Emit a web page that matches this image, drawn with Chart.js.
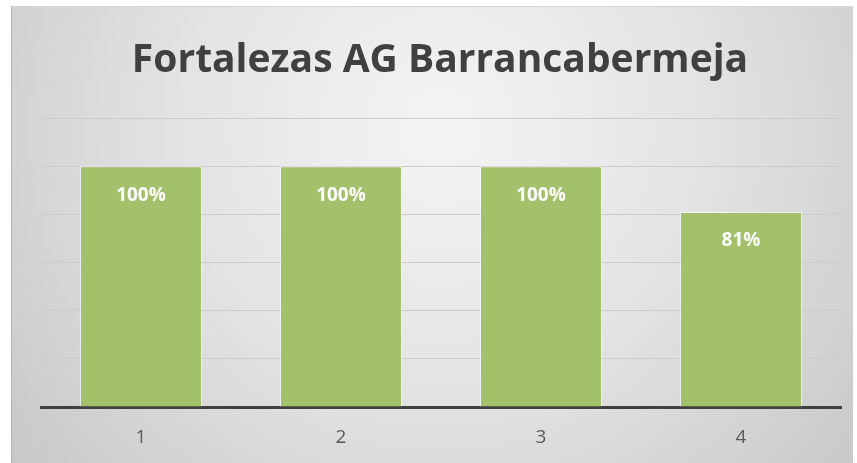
<!DOCTYPE html>
<html>
<head>
<meta charset="utf-8">
<script src="https://cdn.jsdelivr.net/npm/chart.js@4/dist/chart.umd.min.js"></script>
<style>
html,body{margin:0;padding:0;background:#ffffff;}
#wrap{width:857px;height:463px;position:relative;}
</style>
</head>
<body>
<div id="wrap"><canvas id="c" width="857" height="463"></canvas></div>
<script>
const categories = ["1", "2", "3", "4"];
const values = [100, 100, 100, 81];
const valueLabels = ["100%", "100%", "100%", "81%"];
const titleText = "Fortalezas AG Barrancabermeja";

const bgPlugin = {
  id: 'bg',
  beforeDraw(chart) {
    const ctx = chart.ctx;
    ctx.save();
    ctx.fillStyle = '#ffffff';
    ctx.fillRect(0, 0, chart.width, chart.height);
    const x0 = 11, y0 = 6, x1 = 853, y1 = 463;
    const g = ctx.createRadialGradient(440, 130, 20, 440, 130, 560);
    g.addColorStop(0, '#f3f3f3');
    g.addColorStop(0.45, '#e3e3e3');
    g.addColorStop(1, '#c6c6c6');
    ctx.fillStyle = g;
    ctx.fillRect(x0, y0, x1 - x0, y1 - y0);
    ctx.strokeStyle = '#d6d6d6';
    ctx.lineWidth = 1;
    ctx.beginPath();
    ctx.moveTo(x0, y0 + 0.5); ctx.lineTo(x1, y0 + 0.5);
    ctx.stroke();
    ctx.strokeStyle = '#b4b4b4';
    ctx.beginPath();
    ctx.moveTo(x0 + 0.5, y0); ctx.lineTo(x0 + 0.5, y1);
    ctx.stroke();
    // title
    ctx.fillStyle = '#404040';
    ctx.font = 'bold 39px "Open Sans"';
    ctx.textAlign = 'center';
    ctx.textBaseline = 'middle';
    ctx.fillText(titleText, 440, 61);
    ctx.restore();
  },
  afterDatasetsDraw(chart) {
    const ctx = chart.ctx;
    const meta = chart.getDatasetMeta(0);
    ctx.save();
    ctx.fillStyle = '#ffffff';
    ctx.font = 'bold 19px "Open Sans"';
    ctx.textAlign = 'center';
    ctx.textBaseline = 'middle';
    meta.data.forEach((bar, i) => {
      ctx.fillText(valueLabels[i], bar.x, bar.y + 29);
    });
    ctx.restore();
  }
};

new Chart(document.getElementById('c'), {
  type: 'bar',
  data: {
    labels: categories,
    datasets: [{
      data: values,
      backgroundColor: '#a3c16a',
      borderColor: 'rgba(255,255,255,0.55)',
      borderWidth: 1,
      barPercentage: 0.61,
      categoryPercentage: 1.0
    }]
  },
  options: {
    responsive: false,
    animation: false,
    devicePixelRatio: 1,
    layout: { padding: { top: 118, left: 41, right: 16, bottom: 0 } },
    plugins: { legend: { display: false }, title: { display: false }, tooltip: { enabled: false } },
    scales: {
      x: {
        grid: { display: false, drawTicks: false },
        border: { display: true, color: '#404040', width: 3 },
        ticks: { color: '#595959', font: { family: 'Open Sans', size: 19 }, padding: 19 },
        afterFit(s) { s.height = 56; }
      },
      y: {
        min: 0, max: 120,
        ticks: { display: false, stepSize: 20 },
        grid: { color: '#cccccc', lineWidth: 1, drawTicks: false },
        border: { display: false },
        afterFit(s) { s.width = 0; }
      }
    }
  },
  plugins: [bgPlugin]
});
</script>
</body>
</html>
